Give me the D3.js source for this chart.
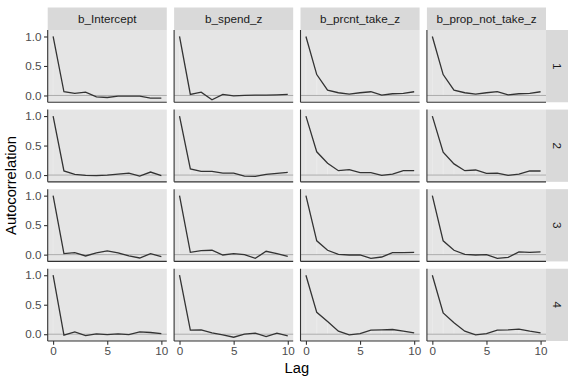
<!DOCTYPE html>
<html lang="en">
<head>
  <meta charset="UTF-8">
  <title>ACF</title>
  <style>
    body { margin: 0; background: #fff; }
    text { font-family: "Liberation Sans", Arial, sans-serif; }
  </style>
</head>
<body>
  <svg width="576" height="384" class="svgs"></svg>
  <script src="https://cdn.jsdelivr.net/npm/d3@7/dist/d3.min.js"></script>
  <script>
    const lags = [0, 1, 2, 3, 4, 5, 6, 7, 8, 9, 10]
    const params = ['b_Intercept', 'b_spend_z', 'b_prcnt_take_z', 'b_prop_not_take_z']
    const chains = ['1', '2', '3', '4']
    const yTicks = [0, 0.5, 1]
    const xTicks = [0, 5, 10]

    // autocorrelation per chain, one array per parameter (lags 0..10)
    const chain1 = [
      [1, 0.063, 0.034, 0.057, -0.023, -0.034, -0.011, -0.011, -0.011, -0.046, -0.046],
      [1, 0.017, 0.057, -0.074, 0.017, -0.006, 0, 0.006, 0.006, 0.011, 0.017],
      [1, 0.354, 0.091, 0.046, 0.023, 0.046, 0.063, 0.006, 0.029, 0.034, 0.063],
      [1, 0.354, 0.091, 0.046, 0.023, 0.046, 0.066, 0.011, 0.029, 0.034, 0.063]
    ]
    const chain2 = [
      [1, 0.069, 0.011, -0.006, -0.011, 0, 0.017, 0.034, -0.017, 0.051, -0.011],
      [1, 0.103, 0.063, 0.063, 0.034, 0.034, -0.017, -0.023, 0.011, 0.029, 0.046],
      [1, 0.394, 0.2, 0.074, 0.091, 0.04, 0.04, -0.006, 0.017, 0.074, 0.074],
      [1, 0.389, 0.189, 0.074, 0.086, 0.029, 0.034, -0.006, 0.017, 0.069, 0.069]
    ]
    const chain3 = [
      [1, 0.017, 0.034, -0.023, 0.029, 0.063, 0.029, -0.023, -0.057, 0.017, -0.034],
      [1, 0.04, 0.069, 0.074, -0.006, 0.017, 0, -0.063, 0.057, 0.017, -0.029],
      [1, 0.234, 0.074, 0.006, -0.006, -0.006, -0.063, -0.04, 0.034, 0.034, 0.04],
      [1, 0.234, 0.074, 0.006, -0.006, 0, -0.063, -0.046, 0.046, 0.04, 0.046]
    ]
    const chain4 = [
      [1, -0.017, 0.04, -0.023, 0.006, -0.006, 0.006, -0.006, 0.04, 0.029, 0.011],
      [1, 0.069, 0.074, 0.023, -0.011, -0.051, 0, 0.017, -0.04, 0.017, -0.029],
      [1, 0.371, 0.217, 0.051, -0.011, 0.011, 0.069, 0.074, 0.08, 0.051, 0.023],
      [1, 0.36, 0.194, 0.051, -0.011, 0.011, 0.069, 0.074, 0.086, 0.051, 0.023]
    ]
    const chainValues = [chain1, chain2, chain3, chain4]

    const mainsvg = d3.select('.svgs')
    const marginLeft = 47.7
    const marginTop = 30
    const plotRight = 546
    const plotBottom = 341
    const gap = 7.33
    const stripH = 22.5
    const stripW = 22
    const pw = (plotRight - marginLeft - 3 * gap) / 4
    const ph = (plotBottom - marginTop - 3 * gap) / 4

    const xScale = d3.scaleLinear().domain([-0.5, 10.5]).range([0, pw])
    const yScale = d3.scaleLinear().domain([-0.115, 1.11]).range([ph, 0])

    const line = d3.line()
      .x((d, i) => xScale(lags[i]))
      .y(d => yScale(d))

    chains.forEach((ch, r) => {
      params.forEach((p, c) => {
        const vals = chainValues[r][c]
        const px = marginLeft + c * (pw + gap)
        const py = marginTop + r * (ph + gap)
        const g = mainsvg.append('g')
          .attr('transform', `translate(${px}, ${py})`)

        g.append('rect').attr('width', pw).attr('height', ph).attr('fill', '#e5e5e5')

        // lag segments
        vals.forEach((v, i) => {
          g.append('line')
            .attr('x1', xScale(lags[i])).attr('x2', xScale(lags[i]))
            .attr('y1', yScale(0)).attr('y2', yScale(v))
            .attr('stroke', '#f0f0f0').attr('stroke-width', 0.6)
        })

        g.append('line')
          .attr('x1', 0).attr('x2', pw)
          .attr('y1', yScale(0)).attr('y2', yScale(0))
          .attr('stroke', '#9e9e9e').attr('stroke-width', 0.8)

        g.append('path')
          .datum(vals)
          .attr('d', line)
          .attr('fill', 'none')
          .attr('stroke', '#333333')
          .attr('stroke-width', 1.3)

        // axis lines on every panel, ticks only on outer ones
        const yAxis = d3.axisLeft(yScale).tickValues(c === 0 ? yTicks : []).tickFormat(d3.format('.1f'))
          .tickSize(3.67).tickPadding(2.5).tickSizeOuter(0)
        const xAxis = d3.axisBottom(xScale).tickValues(r === 3 ? xTicks : []).tickSize(3.67).tickPadding(2.5).tickSizeOuter(0)
        const ya = g.append('g').call(yAxis)
        const xa = g.append('g').attr('transform', `translate(0, ${ph})`).call(xAxis)
        ;[ya, xa].forEach(a => {
          a.select('.domain').attr('stroke', '#333333').attr('stroke-width', 1.1)
          a.selectAll('.tick line').attr('stroke', '#333333').attr('stroke-width', 1.1)
          a.selectAll('.tick text').attr('fill', '#4d4d4d').attr('font-size', '11.7px')
            .attr('font-family', '"Liberation Sans", Arial, sans-serif')
        })
        ya.select('.domain').attr('d', `M0,${ph}V0`)
        xa.select('.domain').attr('d', `M0,0H${pw}`)

        if (r === 0) {
          mainsvg.append('rect')
            .attr('x', px).attr('y', marginTop - stripH)
            .attr('width', pw).attr('height', stripH).attr('fill', '#d9d9d9')
          mainsvg.append('text')
            .text(p)
            .attr('x', px + pw / 2).attr('y', marginTop - stripH / 2)
            .attr('dy', '0.35em').attr('text-anchor', 'middle')
            .attr('font-size', '11.7px').attr('fill', '#1a1a1a')
        }
        if (c === 3) {
          const sx = px + pw
          mainsvg.append('rect')
            .attr('x', sx).attr('y', py)
            .attr('width', stripW).attr('height', ph).attr('fill', '#d9d9d9')
          mainsvg.append('text')
            .text(ch)
            .attr('transform', `translate(${sx + stripW / 2}, ${py + ph / 2}) rotate(90)`)
            .attr('dy', '0.35em').attr('text-anchor', 'middle')
            .attr('font-size', '11.7px').attr('fill', '#1a1a1a')
        }
      })
    })

    mainsvg.append('text')
      .text('Autocorrelation')
      .attr('transform', `translate(11, ${(marginTop + plotBottom) / 2}) rotate(-90)`)
      .attr('dy', '0.35em').attr('text-anchor', 'middle')
      .attr('font-size', '14.7px').attr('fill', '#000')

    mainsvg.append('text')
      .text('Lag')
      .attr('x', (marginLeft + plotRight) / 2).attr('y', 368)
      .attr('dy', '0.35em').attr('text-anchor', 'middle')
      .attr('font-size', '14.7px').attr('fill', '#000')
  </script>
</body>
</html>
